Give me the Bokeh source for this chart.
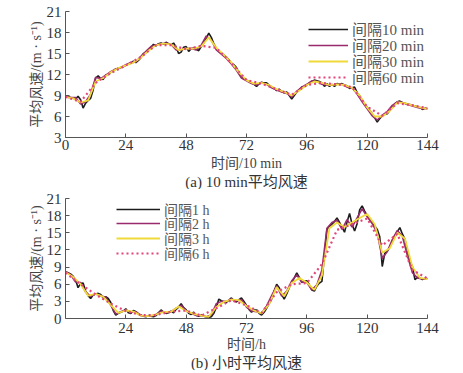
from bokeh.plotting import figure
from bokeh.layouts import column
from bokeh.models import Range1d, FixedTicker, Legend, LegendItem, Title
from bokeh.embed import file_html
from bokeh.resources import INLINE

# ---------------- data: (a) 10-min mean wind speed ----------------
t_10min = list(range(0, 145, 1))
v_10min = [8.8, 8.9, 8.7, 8.6, 8.5, 8.9, 8.4, 7.2, 7.9, 8.3,
           8.6, 9.8, 11.5, 11.8, 11.4, 11.3, 11.9, 12.0, 12.3, 12.5,
           12.8, 12.9, 13.0, 13.1, 13.3, 13.5, 13.6, 13.9, 13.7, 14.0,
           14.4, 15.0, 15.1, 15.5, 15.9, 16.3, 16.1, 16.4, 16.5, 16.3,
           16.6, 16.4, 16.2, 16.5, 15.9, 15.0, 15.2, 15.9, 16.0, 15.3,
           15.7, 15.8, 15.6, 15.4, 16.0, 16.5, 17.2, 17.9, 17.3, 16.4,
           15.7, 15.3, 15.0, 14.8, 14.5, 14.1, 13.6, 13.4, 13.0, 12.2,
           11.6, 11.4, 11.2, 11.0, 10.8, 10.6, 10.3, 10.7, 10.9, 10.8,
           10.8, 10.5, 10.2, 10.0, 9.7, 9.9, 9.6, 9.4, 9.5, 9.0,
           8.5, 9.0, 9.5, 9.8, 10.2, 10.3, 10.5, 10.8, 11.0, 11.2,
           11.1, 11.0, 10.8, 10.3, 10.7, 10.3, 10.6, 10.3, 10.7, 10.6,
           10.7, 10.5, 10.4, 10.0, 10.1, 10.2, 9.4, 9.0, 8.3, 7.8,
           7.3, 6.9, 6.4, 5.8, 5.2, 5.7, 6.1, 6.3, 6.4, 6.9,
           7.3, 7.8, 8.1, 8.2, 8.0, 7.9, 7.8, 7.7, 7.6, 7.5,
           7.4, 7.3, 7.0, 7.2, 7.1]
t_20min = list(range(0, 145, 2))
v_20min = [8.8, 8.7, 8.7, 7.8, 8.1, 9.2, 11.6, 11.4, 11.9, 12.4,
           12.8, 13.0, 13.4, 13.7, 13.8, 14.6, 15.3, 16.0, 16.2, 16.4,
           16.5, 16.3, 15.5, 15.5, 15.7, 15.7, 15.5, 16.2, 17.5, 16.9,
           15.5, 14.9, 14.3, 13.5, 12.6, 11.5, 11.1, 10.7, 10.5, 10.8,
           10.6, 10.1, 9.8, 9.5, 9.3, 8.8, 9.6, 10.2, 10.6, 11.1,
           11.0, 10.6, 10.5, 10.5, 10.6, 10.6, 10.2, 10.1, 9.2, 8.1,
           7.1, 6.1, 5.5, 6.2, 6.7, 7.6, 8.1, 8.0, 7.7, 7.5,
           7.3, 7.1, 7.1]
t_30min = list(range(0, 145, 3))
v_30min = [8.8, 8.6, 8.0, 8.3, 11.0, 11.5, 12.3, 12.9, 13.3, 13.7,
           14.4, 15.4, 16.2, 16.4, 16.3, 15.5, 15.7, 15.7, 16.0, 17.3,
           15.8, 14.8, 13.7, 12.3, 11.2, 10.7, 10.8, 10.5, 9.9, 9.5,
           9.0, 9.7, 10.5, 11.0, 10.8, 10.5, 10.6, 10.5, 10.1, 9.0,
           7.3, 6.0, 6.0, 6.8, 8.0, 7.9, 7.6, 7.3, 7.1]
t_60min = list(range(0, 145, 6))
v_60min = [8.8, 8.1, 10.8, 12.2, 13.3, 14.5, 16.2, 16.2, 15.6, 16.1,
           15.8, 13.6, 11.2, 10.7, 9.9, 9.1, 10.5, 10.8, 10.6, 10.2,
           7.4, 6.1, 7.9, 7.6, 7.2]

# ---------------- data: (b) hourly mean wind speed ----------------
t_1h = list(range(0, 145, 1))
v_1h = [8.2, 8.0, 7.8, 7.4, 6.8, 5.4, 6.1, 6.2, 4.8, 4.0,
        3.5, 4.1, 4.3, 4.4, 4.2, 3.6, 3.8, 3.5, 2.8, 1.4,
        0.6, 0.9, 1.1, 1.3, 1.7, 1.0, 0.9, 1.4, 1.2, 0.8,
        0.6, 0.4, 0.3, 0.5, 0.4, 0.3, 0.5, 1.0, 1.5, 1.1,
        0.9, 1.0, 1.3, 1.0, 1.6, 2.0, 2.6, 1.9, 1.5, 0.9,
        0.7, 1.1, 0.6, 0.4, 0.6, 0.4, 0.3, 0.2, 0.3, 0.9,
        2.0, 3.4, 3.1, 2.9, 2.8, 3.2, 3.6, 3.1, 2.9, 3.3,
        3.6, 3.0, 2.3, 1.6, 1.1, 1.5, 1.5, 0.9, 0.6, 1.1,
        1.8, 2.6, 3.4, 4.8, 6.0, 5.4, 4.2, 3.4, 4.3, 5.4,
        6.3, 7.1, 8.0, 7.2, 6.3, 6.5, 6.6, 5.9, 5.0, 4.8,
        5.7, 6.2, 6.5, 11.0, 15.6, 16.1, 16.5, 17.0, 17.6, 16.8,
        16.0, 15.1, 16.9, 18.4, 16.5, 15.3, 16.6, 19.0, 19.7, 18.8,
        18.0, 17.4, 16.8, 16.2, 15.6, 14.3, 9.1, 11.4, 11.8, 12.5,
        13.5, 14.5, 15.2, 15.9, 14.8, 13.9, 11.9, 10.0, 9.1, 6.8,
        7.2, 7.1, 6.8, 7.0, 7.0]
t_2h = list(range(0, 145, 2))
v_2h = [8.2, 7.7, 6.4, 6.3, 4.6, 3.9, 4.3, 4.0, 3.7, 2.3,
        0.8, 1.2, 1.5, 1.1, 1.2, 0.5, 0.4, 0.4, 0.7, 1.3,
        1.0, 1.2, 1.8, 2.3, 1.3, 0.9, 0.5, 0.5, 0.3, 0.6,
        2.6, 3.0, 3.0, 3.4, 3.1, 3.3, 2.0, 1.3, 1.2, 0.9,
        2.2, 4.0, 5.7, 3.9, 4.8, 6.6, 7.6, 6.4, 6.3, 5.0,
        5.9, 8.5, 15.8, 16.8, 17.2, 15.6, 17.3, 16.0, 17.6, 19.2,
        17.8, 16.6, 15.0, 10.5, 11.7, 13.8, 15.4, 14.4, 11.0, 8.0,
        7.1, 6.9, 7.0]
t_3h = list(range(0, 145, 3))
v_3h = [8.1, 7.3, 6.0, 4.0, 4.3, 3.8, 2.4, 1.0, 1.4, 1.2,
        0.5, 0.4, 0.7, 1.1, 1.2, 2.1, 1.3, 0.8, 0.5, 0.3,
        2.0, 2.9, 3.3, 3.2, 2.2, 1.4, 0.9, 2.5, 5.5, 3.9,
        6.2, 7.1, 6.3, 5.0, 7.5, 15.8, 16.8, 16.0, 16.8, 17.6,
        18.3, 16.5, 11.5, 12.3, 15.0, 14.0, 9.0, 7.1, 6.9]
t_6h = list(range(0, 145, 6))
v_6h = [8.0, 6.0, 4.2, 2.6, 1.3, 0.6, 0.6, 1.2, 1.4, 0.5,
        1.8, 3.2, 2.3, 1.0, 4.6, 6.0, 6.2, 9.5, 15.5, 16.5,
        17.5, 12.8, 14.8, 8.5, 7.0]

x_ticks_a = [0, 24, 48, 72, 96, 120, 144]
x_ticks_b = [24, 48, 72, 96, 120, 144]
y_ticks_a = [3, 6, 9, 12, 15, 18, 21]
y_ticks_b = [0, 3, 6, 9, 12, 15, 18, 21]

labels_a = ["间隔10 min", "间隔20 min", "间隔30 min", "间隔60 min"]
labels_b = ["间隔1 h", "间隔2 h", "间隔3 h", "间隔6 h"]

C_BLACK = "#1c1c1c"
C_PURPLE = "#992a6c"
C_YELLOW = "#f0da3a"
C_RED = "#e2457a"

MIX = "Liberation Serif, Noto Sans CJK SC"
YLABEL = "平均风速/(m · s⁻¹)"


def make_fig(height, ymin, ymax, xt, yt, xlabel, caption, series, labels,
             border_top, border_bottom, leg_x, leg_ys, glyph_w, lab_size,
             tick_standoff, xlab_standoff, cap_standoff):
    p = figure(width=463, height=height, output_backend="svg",
               toolbar_location=None, x_range=Range1d(0, 144),
               y_range=Range1d(ymin, ymax),
               min_border_left=65, min_border_right=36,
               min_border_top=border_top, min_border_bottom=border_bottom)
    p.outline_line_color = None
    p.xgrid.visible = False
    p.ygrid.visible = False
    p.background_fill_color = "white"
    for ax in (p.xaxis[0], p.yaxis[0]):
        ax.axis_line_color = "#555555"
        ax.major_tick_line_color = "#555555"
        ax.major_tick_in = 4
        ax.major_tick_out = 0
        ax.minor_tick_line_color = None
        ax.major_label_text_font = MIX
        ax.major_label_text_font_size = "15px"
        ax.major_label_text_color = "#333333"
        ax.axis_label_text_font = MIX
        ax.axis_label_text_font_style = "normal"
        ax.axis_label_text_font_size = "14px"
        ax.axis_label_text_color = "#444444"
    p.xaxis.ticker = FixedTicker(ticks=xt)
    p.yaxis.ticker = FixedTicker(ticks=yt)
    p.xaxis.major_label_standoff = tick_standoff
    p.yaxis.major_label_standoff = 4
    p.xaxis.axis_label = xlabel
    p.xaxis.axis_label_standoff = xlab_standoff
    p.yaxis.axis_label = YLABEL
    p.yaxis.axis_label_standoff = 0

    styles = [dict(color=C_BLACK, line_width=1.6),
              dict(color=C_PURPLE, line_width=1.6),
              dict(color=C_YELLOW, line_width=1.8),
              dict(color=C_RED, line_width=2.2, line_dash="2 3")]
    for (tx, vy), st, lab, ly in zip(series, styles, labels, leg_ys):
        r = p.line(tx, vy, **st)
        leg = Legend(items=[LegendItem(label=lab, renderers=[r])],
                     location=(leg_x, ly))
        leg.background_fill_alpha = 0
        leg.border_line_alpha = 0
        leg.padding = 0
        leg.margin = 0
        leg.spacing = 0
        leg.glyph_width = glyph_w
        leg.glyph_height = 14
        leg.label_height = 14
        leg.label_standoff = 4
        leg.label_text_font = MIX
        leg.label_text_font_size = lab_size
        leg.label_text_color = "#555555"
        p.add_layout(leg)

    cap = Title(text=caption, align="center", text_font=MIX,
                text_font_size="15px", text_font_style="normal",
                text_color="#333333", standoff=cap_standoff, offset=0)
    p.add_layout(cap, "below")
    return p


p1 = make_fig(189, 3, 21, x_ticks_a, y_ticks_a, "时间/10 min",
              "(a) 10 min平均风速",
              [(t_10min, v_10min), (t_20min, v_20min),
               (t_30min, v_30min), (t_60min, v_60min)],
              labels_a, 11, 52, 243, [98, 82, 66, 50], 40, "15px", 2, 3, -4)
p2 = make_fig(181, 0, 21, x_ticks_b, y_ticks_b, "时间/h",
              "(b) 小时平均风速",
              [(t_1h, v_1h), (t_2h, v_2h), (t_3h, v_3h), (t_6h, v_6h)],
              labels_b, 9, 52, 51, [99, 85, 70, 55], 44, "14px", 4, 1, -3)

layout = column(p1, p2, spacing=0)
open("out.html", "w").write(file_html(layout, INLINE))
